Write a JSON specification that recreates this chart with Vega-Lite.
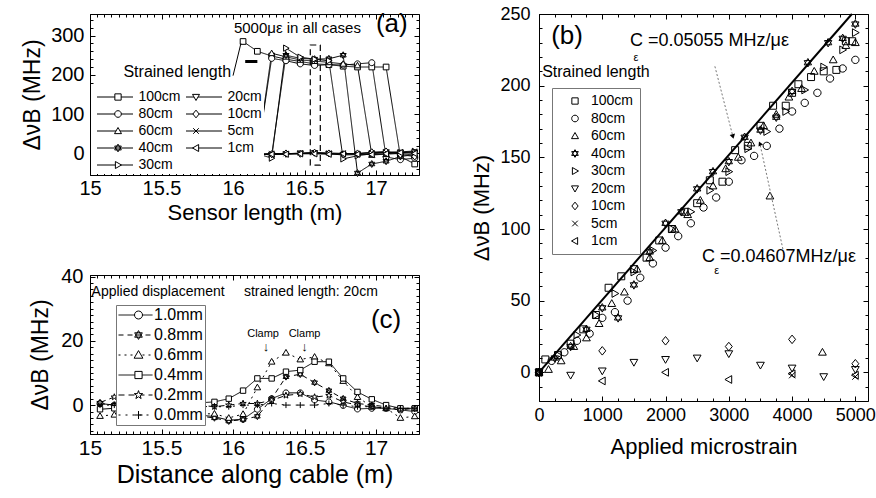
{
 "$schema": "https://vega.github.io/schema/vega-lite/v6.json",
 "autosize": {"type": "none"},
 "padding": {"left": 90, "top": 14, "right": 786, "bottom": 484},
 "background": "white",
 "bounds": "flush",
 "spacing": 449,
 "datasets": {
  "a": [
   {"s":"100cm","x":16.07,"v":285},{"s":"100cm","x":16.17,"v":260},{"s":"100cm","x":16.27,"v":248},{"s":"100cm","x":16.37,"v":240},{"s":"100cm","x":16.47,"v":234},{"s":"100cm","x":16.57,"v":228},{"s":"100cm","x":16.67,"v":226},{"s":"100cm","x":16.77,"v":222},{"s":"100cm","x":16.87,"v":220},{"s":"100cm","x":16.97,"v":220},{"s":"100cm","x":17.07,"v":220},{"s":"100cm","x":17.17,"v":-8},{"s":"100cm","x":17.27,"v":-27},
   {"s":"80cm","x":16.07,"v":0},{"s":"80cm","x":16.17,"v":-2},{"s":"80cm","x":16.27,"v":242},{"s":"80cm","x":16.37,"v":236},{"s":"80cm","x":16.47,"v":228},{"s":"80cm","x":16.57,"v":224},{"s":"80cm","x":16.67,"v":226},{"s":"80cm","x":16.77,"v":225},{"s":"80cm","x":16.87,"v":228},{"s":"80cm","x":16.97,"v":231},{"s":"80cm","x":17.07,"v":-9},{"s":"80cm","x":17.17,"v":-16},{"s":"80cm","x":17.27,"v":-12},
   {"s":"60cm","x":16.07,"v":-1},{"s":"60cm","x":16.17,"v":0},{"s":"60cm","x":16.27,"v":255},{"s":"60cm","x":16.37,"v":246},{"s":"60cm","x":16.47,"v":238},{"s":"60cm","x":16.57,"v":235},{"s":"60cm","x":16.67,"v":232},{"s":"60cm","x":16.77,"v":228},{"s":"60cm","x":16.87,"v":224},{"s":"60cm","x":16.97,"v":-4},{"s":"60cm","x":17.07,"v":-2},{"s":"60cm","x":17.17,"v":0},{"s":"60cm","x":17.27,"v":-5},
   {"s":"40cm","x":16.07,"v":0},{"s":"40cm","x":16.17,"v":-1},{"s":"40cm","x":16.27,"v":-4},{"s":"40cm","x":16.37,"v":250},{"s":"40cm","x":16.47,"v":242},{"s":"40cm","x":16.57,"v":240},{"s":"40cm","x":16.67,"v":241},{"s":"40cm","x":16.77,"v":250},{"s":"40cm","x":16.87,"v":-50},{"s":"40cm","x":16.97,"v":-27},{"s":"40cm","x":17.07,"v":-20},{"s":"40cm","x":17.17,"v":-8},{"s":"40cm","x":17.27,"v":-3},
   {"s":"30cm","x":16.07,"v":-2},{"s":"30cm","x":16.17,"v":-1},{"s":"30cm","x":16.27,"v":-12},{"s":"30cm","x":16.37,"v":268},{"s":"30cm","x":16.47,"v":245},{"s":"30cm","x":16.57,"v":240},{"s":"30cm","x":16.67,"v":236},{"s":"30cm","x":16.77,"v":-14},{"s":"30cm","x":16.87,"v":-6},{"s":"30cm","x":16.97,"v":-1},{"s":"30cm","x":17.07,"v":2},{"s":"30cm","x":17.17,"v":1},{"s":"30cm","x":17.27,"v":5},
   {"s":"20cm","x":16.07,"v":0},{"s":"20cm","x":16.17,"v":-2},{"s":"20cm","x":16.27,"v":-3},{"s":"20cm","x":16.37,"v":-2},{"s":"20cm","x":16.47,"v":0},{"s":"20cm","x":16.57,"v":1},{"s":"20cm","x":16.67,"v":-1},{"s":"20cm","x":16.77,"v":-4},{"s":"20cm","x":16.87,"v":-3},{"s":"20cm","x":16.97,"v":0},{"s":"20cm","x":17.07,"v":3},{"s":"20cm","x":17.17,"v":2},{"s":"20cm","x":17.27,"v":3},
   {"s":"10cm","x":16.07,"v":1},{"s":"10cm","x":16.17,"v":-3},{"s":"10cm","x":16.27,"v":-2},{"s":"10cm","x":16.37,"v":0},{"s":"10cm","x":16.47,"v":-1},{"s":"10cm","x":16.57,"v":2},{"s":"10cm","x":16.67,"v":0},{"s":"10cm","x":16.77,"v":-2},{"s":"10cm","x":16.87,"v":0},{"s":"10cm","x":16.97,"v":3},{"s":"10cm","x":17.07,"v":5},{"s":"10cm","x":17.17,"v":-3},{"s":"10cm","x":17.27,"v":-8},
   {"s":"5cm","x":16.07,"v":0},{"s":"5cm","x":16.17,"v":-2},{"s":"5cm","x":16.27,"v":0},{"s":"5cm","x":16.37,"v":-1},{"s":"5cm","x":16.47,"v":1},{"s":"5cm","x":16.57,"v":2},{"s":"5cm","x":16.67,"v":1},{"s":"5cm","x":16.77,"v":0},{"s":"5cm","x":16.87,"v":-1},{"s":"5cm","x":16.97,"v":2},{"s":"5cm","x":17.07,"v":3},{"s":"5cm","x":17.17,"v":4},{"s":"5cm","x":17.27,"v":6},
   {"s":"1cm","x":16.07,"v":0},{"s":"1cm","x":16.17,"v":-3},{"s":"1cm","x":16.27,"v":-2},{"s":"1cm","x":16.37,"v":-2},{"s":"1cm","x":16.47,"v":-1},{"s":"1cm","x":16.57,"v":-1},{"s":"1cm","x":16.67,"v":-2},{"s":"1cm","x":16.77,"v":-1},{"s":"1cm","x":16.87,"v":-2},{"s":"1cm","x":16.97,"v":-3},{"s":"1cm","x":17.07,"v":-1},{"s":"1cm","x":17.17,"v":2},{"s":"1cm","x":17.27,"v":0}
  ],
  "c": [
   {"s":"1.0mm","x":15.07,"v":0.5},{"s":"1.0mm","x":15.17,"v":0},{"s":"1.0mm","x":15.87,"v":-3.6},{"s":"1.0mm","x":15.97,"v":-4.7},{"s":"1.0mm","x":16.07,"v":-4.4},{"s":"1.0mm","x":16.17,"v":-1.3},{"s":"1.0mm","x":16.27,"v":2},{"s":"1.0mm","x":16.37,"v":3.8},{"s":"1.0mm","x":16.47,"v":3.8},{"s":"1.0mm","x":16.57,"v":1.6},{"s":"1.0mm","x":16.67,"v":1},{"s":"1.0mm","x":16.77,"v":-0.1},{"s":"1.0mm","x":16.87,"v":-1.2},{"s":"1.0mm","x":16.97,"v":-1},{"s":"1.0mm","x":17.07,"v":-1},{"s":"1.0mm","x":17.17,"v":-1.5},{"s":"1.0mm","x":17.27,"v":-2},
   {"s":"0.8mm","x":15.07,"v":0.5},{"s":"0.8mm","x":15.17,"v":0},{"s":"0.8mm","x":15.87,"v":-4},{"s":"0.8mm","x":15.97,"v":-5},{"s":"0.8mm","x":16.07,"v":-4.5},{"s":"0.8mm","x":16.17,"v":-3.5},{"s":"0.8mm","x":16.27,"v":2},{"s":"0.8mm","x":16.37,"v":8.8},{"s":"0.8mm","x":16.47,"v":9.6},{"s":"0.8mm","x":16.57,"v":7},{"s":"0.8mm","x":16.67,"v":4.5},{"s":"0.8mm","x":16.77,"v":2},{"s":"0.8mm","x":16.87,"v":0.5},{"s":"0.8mm","x":16.97,"v":0},{"s":"0.8mm","x":17.07,"v":-0.5},{"s":"0.8mm","x":17.17,"v":-1},{"s":"0.8mm","x":17.27,"v":-1},
   {"s":"0.6mm","x":15.07,"v":-3.4},{"s":"0.6mm","x":15.17,"v":-3},{"s":"0.6mm","x":15.87,"v":-2.7},{"s":"0.6mm","x":15.97,"v":-4},{"s":"0.6mm","x":16.07,"v":-2.8},{"s":"0.6mm","x":16.17,"v":5.5},{"s":"0.6mm","x":16.27,"v":13.5},{"s":"0.6mm","x":16.37,"v":16.3},{"s":"0.6mm","x":16.47,"v":14.2},{"s":"0.6mm","x":16.57,"v":15},{"s":"0.6mm","x":16.67,"v":13},{"s":"0.6mm","x":16.77,"v":7.5},{"s":"0.6mm","x":16.87,"v":2.5},{"s":"0.6mm","x":16.97,"v":-0.5},{"s":"0.6mm","x":17.07,"v":-1},{"s":"0.6mm","x":17.17,"v":-4},{"s":"0.6mm","x":17.27,"v":-3.5},
   {"s":"0.4mm","x":15.07,"v":-1.3},{"s":"0.4mm","x":15.17,"v":-1},{"s":"0.4mm","x":15.87,"v":1},{"s":"0.4mm","x":15.97,"v":2},{"s":"0.4mm","x":16.07,"v":4.5},{"s":"0.4mm","x":16.17,"v":8.3},{"s":"0.4mm","x":16.27,"v":8.3},{"s":"0.4mm","x":16.37,"v":10.4},{"s":"0.4mm","x":16.47,"v":10.9},{"s":"0.4mm","x":16.57,"v":13.5},{"s":"0.4mm","x":16.67,"v":13.5},{"s":"0.4mm","x":16.77,"v":8.3},{"s":"0.4mm","x":16.87,"v":4.1},{"s":"0.4mm","x":16.97,"v":1.8},{"s":"0.4mm","x":17.07,"v":0},{"s":"0.4mm","x":17.17,"v":-1},{"s":"0.4mm","x":17.27,"v":-1},
   {"s":"0.2mm","x":15.07,"v":0.8},{"s":"0.2mm","x":15.17,"v":2.5},{"s":"0.2mm","x":15.87,"v":-0.5},{"s":"0.2mm","x":15.97,"v":0},{"s":"0.2mm","x":16.07,"v":0.5},{"s":"0.2mm","x":16.17,"v":0.5},{"s":"0.2mm","x":16.27,"v":1.5},{"s":"0.2mm","x":16.37,"v":3},{"s":"0.2mm","x":16.47,"v":3.5},{"s":"0.2mm","x":16.57,"v":2.5},{"s":"0.2mm","x":16.67,"v":3},{"s":"0.2mm","x":16.77,"v":1},{"s":"0.2mm","x":16.87,"v":0},{"s":"0.2mm","x":16.97,"v":-0.5},{"s":"0.2mm","x":17.07,"v":-1},{"s":"0.2mm","x":17.17,"v":-1.5},{"s":"0.2mm","x":17.27,"v":-1},
   {"s":"0.0mm","x":15.07,"v":0},{"s":"0.0mm","x":15.17,"v":0},{"s":"0.0mm","x":15.87,"v":-0.5},{"s":"0.0mm","x":15.97,"v":-0.5},{"s":"0.0mm","x":16.07,"v":0},{"s":"0.0mm","x":16.17,"v":0},{"s":"0.0mm","x":16.27,"v":0.5},{"s":"0.0mm","x":16.37,"v":0},{"s":"0.0mm","x":16.47,"v":0},{"s":"0.0mm","x":16.57,"v":0},{"s":"0.0mm","x":16.67,"v":0.5},{"s":"0.0mm","x":16.77,"v":0},{"s":"0.0mm","x":16.87,"v":-0.5},{"s":"0.0mm","x":16.97,"v":-0.5},{"s":"0.0mm","x":17.07,"v":-1},{"s":"0.0mm","x":17.17,"v":-1},{"s":"0.0mm","x":17.27,"v":-1}
  ],
  "b": [
   {"s":"100cm","x":0,"v":0},{"s":"100cm","x":100,"v":9},{"s":"100cm","x":300,"v":12},{"s":"100cm","x":500,"v":20},{"s":"100cm","x":700,"v":30},{"s":"100cm","x":900,"v":40},{"s":"100cm","x":1100,"v":59},{"s":"100cm","x":1300,"v":67},{"s":"100cm","x":1500,"v":72},{"s":"100cm","x":1700,"v":80},{"s":"100cm","x":1900,"v":92},{"s":"100cm","x":2100,"v":100},{"s":"100cm","x":2300,"v":112},{"s":"100cm","x":2500,"v":118},{"s":"100cm","x":2700,"v":134},{"s":"100cm","x":2900,"v":133},{"s":"100cm","x":3100,"v":155},{"s":"100cm","x":3300,"v":158},{"s":"100cm","x":3500,"v":172},{"s":"100cm","x":3700,"v":186},{"s":"100cm","x":3900,"v":186},{"s":"100cm","x":4000,"v":195},{"s":"100cm","x":4100,"v":201},{"s":"100cm","x":4300,"v":206},{"s":"100cm","x":4500,"v":210},{"s":"100cm","x":4700,"v":211},{"s":"100cm","x":4850,"v":231},{"s":"100cm","x":4950,"v":231},
   {"s":"80cm","x":0,"v":0},{"s":"80cm","x":200,"v":8},{"s":"80cm","x":400,"v":14},{"s":"80cm","x":600,"v":22},{"s":"80cm","x":800,"v":27},{"s":"80cm","x":1000,"v":38},{"s":"80cm","x":1200,"v":42},{"s":"80cm","x":1400,"v":50},{"s":"80cm","x":1600,"v":66},{"s":"80cm","x":1800,"v":76},{"s":"80cm","x":2000,"v":87},{"s":"80cm","x":2200,"v":95},{"s":"80cm","x":2400,"v":104},{"s":"80cm","x":2600,"v":115},{"s":"80cm","x":2800,"v":122},{"s":"80cm","x":3000,"v":133},{"s":"80cm","x":3200,"v":148},{"s":"80cm","x":3400,"v":151},{"s":"80cm","x":3600,"v":158},{"s":"80cm","x":3800,"v":170},{"s":"80cm","x":4000,"v":182},{"s":"80cm","x":4200,"v":188},{"s":"80cm","x":4400,"v":195},{"s":"80cm","x":4600,"v":205},{"s":"80cm","x":4800,"v":212},{"s":"80cm","x":5000,"v":218},
   {"s":"60cm","x":0,"v":0},{"s":"60cm","x":150,"v":2},{"s":"60cm","x":350,"v":8},{"s":"60cm","x":550,"v":18},{"s":"60cm","x":750,"v":24},{"s":"60cm","x":950,"v":34},{"s":"60cm","x":1150,"v":48},{"s":"60cm","x":1350,"v":56},{"s":"60cm","x":1550,"v":72},{"s":"60cm","x":1750,"v":80},{"s":"60cm","x":1950,"v":92},{"s":"60cm","x":2150,"v":100},{"s":"60cm","x":2350,"v":110},{"s":"60cm","x":2550,"v":120},{"s":"60cm","x":2750,"v":130},{"s":"60cm","x":2950,"v":142},{"s":"60cm","x":3150,"v":150},{"s":"60cm","x":3350,"v":160},{"s":"60cm","x":3550,"v":172},{"s":"60cm","x":3650,"v":123},{"s":"60cm","x":3750,"v":180},{"s":"60cm","x":3950,"v":192},{"s":"60cm","x":4150,"v":198},{"s":"60cm","x":4350,"v":210},{"s":"60cm","x":4480,"v":14},{"s":"60cm","x":4650,"v":218},{"s":"60cm","x":4850,"v":228},{"s":"60cm","x":5000,"v":230},
   {"s":"40cm","x":0,"v":0},{"s":"40cm","x":250,"v":10},{"s":"40cm","x":500,"v":18},{"s":"40cm","x":750,"v":30},{"s":"40cm","x":1000,"v":45},{"s":"40cm","x":1250,"v":38},{"s":"40cm","x":1500,"v":61},{"s":"40cm","x":1750,"v":84},{"s":"40cm","x":2000,"v":104},{"s":"40cm","x":2250,"v":112},{"s":"40cm","x":2500,"v":128},{"s":"40cm","x":2750,"v":140},{"s":"40cm","x":3000,"v":147},{"s":"40cm","x":3250,"v":164},{"s":"40cm","x":3500,"v":169},{"s":"40cm","x":3750,"v":178},{"s":"40cm","x":4000,"v":196},{"s":"40cm","x":4250,"v":216},{"s":"40cm","x":4570,"v":230},{"s":"40cm","x":4800,"v":233},{"s":"40cm","x":5000,"v":243},
   {"s":"30cm","x":0,"v":0},{"s":"30cm","x":300,"v":12},{"s":"30cm","x":600,"v":26},{"s":"30cm","x":900,"v":40},{"s":"30cm","x":1200,"v":55},{"s":"30cm","x":1500,"v":70},{"s":"30cm","x":1800,"v":85},{"s":"30cm","x":2100,"v":100},{"s":"30cm","x":2400,"v":112},{"s":"30cm","x":2700,"v":127},{"s":"30cm","x":3000,"v":140},{"s":"30cm","x":3300,"v":156},{"s":"30cm","x":3600,"v":168},{"s":"30cm","x":3900,"v":182},{"s":"30cm","x":4200,"v":197},{"s":"30cm","x":4500,"v":213},{"s":"30cm","x":4800,"v":225},{"s":"30cm","x":5000,"v":237},
   {"s":"20cm","x":0,"v":0},{"s":"20cm","x":500,"v":-2},{"s":"20cm","x":1000,"v":1},{"s":"20cm","x":1500,"v":7},{"s":"20cm","x":2000,"v":9},{"s":"20cm","x":2500,"v":10},{"s":"20cm","x":3000,"v":13},{"s":"20cm","x":3500,"v":5},{"s":"20cm","x":4000,"v":3},{"s":"20cm","x":4500,"v":-3},{"s":"20cm","x":5000,"v":2},
   {"s":"10cm","x":0,"v":0},{"s":"10cm","x":1000,"v":15},{"s":"10cm","x":2000,"v":22},{"s":"10cm","x":3000,"v":18},{"s":"10cm","x":4000,"v":23},{"s":"10cm","x":5000,"v":6},
   {"s":"5cm","x":0,"v":0},{"s":"5cm","x":4000,"v":-2},{"s":"5cm","x":5000,"v":-3},
   {"s":"1cm","x":0,"v":0},{"s":"1cm","x":1000,"v":-6},{"s":"1cm","x":2000,"v":0},{"s":"1cm","x":3000,"v":-5},{"s":"1cm","x":4000,"v":-1},{"s":"1cm","x":5000,"v":-2}
  ]
 },
 "resolve": {"scale": {"shape": "independent", "strokeDash": "independent", "x": "independent", "y": "independent"}, "legend": {"shape": "independent", "strokeDash": "independent"}},
 "hconcat": [
  {
   "bounds": "flush",
   "spacing": 100,
   "resolve": {"scale": {"shape": "independent", "strokeDash": "independent", "x": "independent", "y": "independent"}, "legend": {"shape": "independent", "strokeDash": "independent"}},
   "vconcat": [
    {
     "width": 329, "height": 161,
     "resolve": {"axis": {"x": "independent", "y": "independent"}},
     "layer": [
      {"data": {"name": "a"}, "mark": {"type": "line", "color": "black", "strokeWidth": 1},
       "encoding": {
        "x": {"field": "x", "type": "quantitative", "scale": {"domain": [15, 17.3], "nice": false, "zero": false},
              "axis": {"orient": "bottom", "values": [15, 15.5, 16, 16.5, 17], "format": "~g", "title": "Sensor length (m)", "labelFontSize": 20, "titleFontSize": 22, "tickSize": -5, "labelPadding": 8, "titlePadding": 4}},
        "y": {"field": "v", "type": "quantitative", "scale": {"domain": [-55, 355], "nice": false, "zero": false},
              "axis": {"orient": "left", "values": [0, 100, 200, 300], "title": "ΔνB (MHz)", "labelFontSize": 20, "titleFontSize": 23, "tickSize": -5, "labelPadding": 11, "titlePadding": 6}},
        "strokeDash": {"field": "s", "type": "nominal",
          "scale": {"domain": ["100cm", "80cm", "60cm", "40cm", "30cm", "20cm", "10cm", "5cm", "1cm"], "range": [[1, 0], [1, 0], [1, 0], [1, 0], [1, 0], [1, 0], [1, 0], [1, 0], [1, 0]]},
          "legend": {"orient": "none", "legendX": 1, "legendY": 74, "columns": 2, "title": null, "fillColor": "white", "padding": 2, "rowPadding": 3, "columnPadding": 1, "labelFontSize": 14, "symbolType": "stroke", "symbolSize": 1296, "symbolOffset": 3.5, "labelOffset": 5, "symbolStrokeWidth": 1, "symbolStrokeColor": "black", "clipHeight": 14, "zindex": 1}}
       }},
      {"data": {"name": "a"}, "mark": {"type": "point", "filled": true, "fill": "white", "stroke": "black", "strokeWidth": 1, "size": 40, "opacity": 1},
       "encoding": {
        "x": {"field": "x", "type": "quantitative", "axis": null},
        "y": {"field": "v", "type": "quantitative", "axis": null},
        "shape": {"field": "s", "type": "nominal", "sort": ["100cm", "80cm", "60cm", "40cm", "30cm", "20cm", "10cm", "5cm", "1cm"],
          "scale": {"range": ["M-0.9,-0.9H0.9V0.9H-0.9Z", "M-0.95,0A0.95,0.95,0,1,0,0.95,0A0.95,0.95,0,1,0,-0.95,0Z", "M0,-1L1,0.75H-1Z", "M0,-1.1L0.95,0.55H-0.95ZM0,1.1L0.95,-0.55H-0.95Z", "M1,0L-0.75,-1V1Z", "M0,1L1,-0.75H-1Z", "M0,-1.1L0.9,0L0,1.1L-0.9,0Z", "M-0.8,-0.8L0.8,0.8M-0.8,0.8L0.8,-0.8", "M-1,0L0.75,-1V1Z"]},
          "legend": {"orient": "none", "legendX": 1, "legendY": 74, "columns": 2, "title": null, "padding": 2, "rowPadding": 3, "columnPadding": 1, "labelFontSize": 14, "labelOpacity": 0, "labelExpr": "'\u2003\u2003\u2003'", "symbolSize": 49, "symbolOffset": 18, "labelOffset": 45, "symbolStrokeWidth": 1, "clipHeight": 14, "zindex": 2}
        }
       }},
      {"data": {"name": "a"}, "mark": {"type": "point", "opacity": 0},
       "encoding": {
        "x": {"field": "x", "type": "quantitative", "axis": {"orient": "bottom", "tickCount": 46, "labels": false, "title": null, "tickSize": -3}},
        "y": {"field": "v", "type": "quantitative", "axis": {"orient": "left", "tickCount": 20, "labels": false, "title": null, "tickSize": -3}}
       }},
      {"data": {"name": "a"}, "mark": {"type": "point", "opacity": 0},
       "encoding": {
        "x": {"field": "x", "type": "quantitative", "axis": {"orient": "top", "values": [15, 15.5, 16, 16.5, 17], "labels": false, "title": null, "tickSize": -5}},
        "y": {"field": "v", "type": "quantitative", "axis": {"orient": "right", "values": [0, 100, 200, 300], "labels": false, "title": null, "tickSize": -5}}
       }},
      {"data": {"name": "a"}, "mark": {"type": "point", "opacity": 0},
       "encoding": {
        "x": {"field": "x", "type": "quantitative", "axis": {"orient": "top", "tickCount": 46, "labels": false, "title": null, "tickSize": -3}},
        "y": {"field": "v", "type": "quantitative", "axis": {"orient": "right", "tickCount": 20, "labels": false, "title": null, "tickSize": -3}}
       }},
      {"data": {"values": [{}]}, "mark": {"type": "rect", "fillOpacity": 0, "stroke": "black", "strokeWidth": 1.2, "strokeDash": [6, 4]},
       "encoding": {"x": {"datum": 16.54, "type": "quantitative", "axis": null}, "x2": {"datum": 16.61}, "y": {"datum": -30, "type": "quantitative", "axis": null}, "y2": {"datum": 276}}},
      {"data": {"values": [{}]}, "mark": {"type": "rule", "color": "black", "strokeWidth": 1},
       "encoding": {"x": {"datum": 16.0, "type": "quantitative", "axis": null}, "x2": {"datum": 16.055}, "y": {"datum": 198, "type": "quantitative", "axis": null}, "y2": {"datum": 280}}},
      {"data": {"values": [{}]}, "mark": {"type": "rule", "color": "black", "strokeWidth": 3},
       "encoding": {"x": {"datum": 16.085, "type": "quantitative", "axis": null}, "x2": {"datum": 16.17}, "y": {"datum": 234, "type": "quantitative", "axis": null}, "y2": {"datum": 234}}},
      {"data": {"values": [{}]}, "mark": {"type": "text", "text": "5000με in all cases", "fontSize": 15, "align": "center", "baseline": "middle"},
       "encoding": {"x": {"datum": 16.45, "type": "quantitative", "axis": null}, "y": {"datum": 320, "type": "quantitative", "axis": null}}},
      {"data": {"values": [{}]}, "mark": {"type": "text", "text": "(a)", "fontSize": 26, "align": "center", "baseline": "middle"},
       "encoding": {"x": {"datum": 17.11, "type": "quantitative", "axis": null}, "y": {"datum": 330, "type": "quantitative", "axis": null}}},
      {"data": {"values": [{}]}, "mark": {"type": "text", "text": "Strained length", "fontSize": 16, "align": "center", "baseline": "middle"},
       "encoding": {"x": {"datum": 15.61, "type": "quantitative", "axis": null}, "y": {"datum": 207, "type": "quantitative", "axis": null}}}
     ]
    },
    {
     "width": 329, "height": 159,
     "resolve": {"axis": {"x": "independent", "y": "independent"}},
     "layer": [
      {"data": {"name": "c"}, "mark": {"type": "line", "color": "black", "strokeWidth": 1},
       "encoding": {
        "x": {"field": "x", "type": "quantitative", "scale": {"domain": [15, 17.3], "nice": false, "zero": false},
              "axis": {"orient": "bottom", "values": [15, 15.5, 16, 16.5, 17], "format": "~g", "title": "Distance along cable (m)", "labelFontSize": 21, "titleFontSize": 25, "tickSize": -5, "labelPadding": 8, "titlePadding": 4}},
        "y": {"field": "v", "type": "quantitative", "scale": {"domain": [-9, 40.5], "nice": false, "zero": false},
              "axis": {"orient": "left", "values": [0, 20, 40], "title": "ΔνB (MHz)", "labelFontSize": 20, "titleFontSize": 23, "tickSize": -5, "labelPadding": 12, "titlePadding": 8}},
        "strokeDash": {"field": "s", "type": "nominal",
          "scale": {"domain": ["1.0mm", "0.8mm", "0.6mm", "0.4mm", "0.2mm", "0.0mm"], "range": [[1, 0], [5, 4], [2, 4], [1, 0], [6, 4], [2, 5]]},
          "legend": {"orient": "none", "legendX": 26, "legendY": 30, "title": null, "fillColor": "white", "strokeColor": "#777777", "padding": 2, "rowPadding": 4, "labelFontSize": 16, "symbolType": "stroke", "symbolSize": 1156, "symbolOffset": 0, "labelOffset": 1, "symbolStrokeWidth": 1, "symbolStrokeColor": "black", "clipHeight": 16, "zindex": 1}}
       }},
      {"data": {"name": "c"}, "mark": {"type": "point", "filled": true, "fill": "white", "stroke": "black", "strokeWidth": 1, "size": 36, "opacity": 1},
       "encoding": {
        "x": {"field": "x", "type": "quantitative", "axis": null},
        "y": {"field": "v", "type": "quantitative", "axis": null},
        "shape": {"field": "s", "type": "nominal", "sort": ["1.0mm", "0.8mm", "0.6mm", "0.4mm", "0.2mm", "0.0mm"],
          "scale": {"range": ["M-1,0A1,1,0,1,0,1,0A1,1,0,1,0,-1,0Z", "M0,-1.1L0.95,0.55H-0.95ZM0,1.1L0.95,-0.55H-0.95Z", "M0,-1.1L1.1,0.8H-1.1Z", "M-0.9,-0.9H0.9V0.9H-0.9Z", "M0,-1.1L0.26,-0.36L1.05,-0.34L0.42,0.14L0.65,0.89L0,0.44L-0.65,0.89L-0.42,0.14L-1.05,-0.34L-0.26,-0.36Z", "M-1,0H1M0,-1V1"]},
          "legend": {"orient": "none", "legendX": 26, "legendY": 30, "title": null, "padding": 2, "rowPadding": 4, "labelFontSize": 16, "labelOpacity": 0, "labelExpr": "'\u2003\u2003\u2003'", "symbolSize": 64, "symbolOffset": 12.5, "labelOffset": 27, "symbolStrokeWidth": 1, "clipHeight": 16, "zindex": 2}
        }
       }},
      {"data": {"name": "c"}, "mark": {"type": "point", "opacity": 0},
       "encoding": {
        "x": {"field": "x", "type": "quantitative", "axis": {"orient": "bottom", "tickCount": 46, "labels": false, "title": null, "tickSize": -3}},
        "y": {"field": "v", "type": "quantitative", "axis": {"orient": "left", "tickCount": 25, "labels": false, "title": null, "tickSize": -3}}
       }},
      {"data": {"name": "c"}, "mark": {"type": "point", "opacity": 0},
       "encoding": {
        "x": {"field": "x", "type": "quantitative", "axis": {"orient": "top", "values": [15, 15.5, 16, 16.5, 17], "labels": false, "title": null, "tickSize": -5}},
        "y": {"field": "v", "type": "quantitative", "axis": {"orient": "right", "values": [0, 20, 40], "labels": false, "title": null, "tickSize": -5}}
       }},
      {"data": {"name": "c"}, "mark": {"type": "point", "opacity": 0},
       "encoding": {
        "x": {"field": "x", "type": "quantitative", "axis": {"orient": "top", "tickCount": 46, "labels": false, "title": null, "tickSize": -3}},
        "y": {"field": "v", "type": "quantitative", "axis": {"orient": "right", "tickCount": 25, "labels": false, "title": null, "tickSize": -3}}
       }},
      {"data": {"values": [{}]}, "mark": {"type": "text", "text": "Applied displacement", "fontSize": 14, "align": "center", "baseline": "middle"},
       "encoding": {"x": {"datum": 15.476, "type": "quantitative", "axis": null}, "y": {"datum": 35.3, "type": "quantitative", "axis": null}}},
      {"data": {"values": [{}]}, "mark": {"type": "text", "text": "strained length: 20cm", "fontSize": 14, "align": "center", "baseline": "middle"},
       "encoding": {"x": {"datum": 16.544, "type": "quantitative", "axis": null}, "y": {"datum": 35.3, "type": "quantitative", "axis": null}}},
      {"data": {"values": [{}]}, "mark": {"type": "text", "text": "(c)", "fontSize": 26, "align": "center", "baseline": "middle"},
       "encoding": {"x": {"datum": 17.07, "type": "quantitative", "axis": null}, "y": {"datum": 26.5, "type": "quantitative", "axis": null}}},
      {"data": {"values": [{}]}, "mark": {"type": "text", "text": "Clamp", "fontSize": 11, "align": "center", "baseline": "middle"},
       "encoding": {"x": {"datum": 16.21, "type": "quantitative", "axis": null}, "y": {"datum": 22.1, "type": "quantitative", "axis": null}}},
      {"data": {"values": [{}]}, "mark": {"type": "text", "text": "Clamp", "fontSize": 11, "align": "center", "baseline": "middle"},
       "encoding": {"x": {"datum": 16.5, "type": "quantitative", "axis": null}, "y": {"datum": 22.1, "type": "quantitative", "axis": null}}},
      {"data": {"values": [{}]}, "mark": {"type": "text", "text": "↓", "fontSize": 13, "align": "center", "baseline": "middle"},
       "encoding": {"x": {"datum": 16.23, "type": "quantitative", "axis": null}, "y": {"datum": 18.2, "type": "quantitative", "axis": null}}},
      {"data": {"values": [{}]}, "mark": {"type": "text", "text": "↓", "fontSize": 13, "align": "center", "baseline": "middle"},
       "encoding": {"x": {"datum": 16.5, "type": "quantitative", "axis": null}, "y": {"datum": 18.2, "type": "quantitative", "axis": null}}}
     ]
    }
   ]
  },
  {
   "width": 329, "height": 387,
   "resolve": {"axis": {"x": "independent", "y": "independent"}},
   "layer": [
    {"data": {"name": "b"}, "mark": {"type": "point", "filled": false, "stroke": "black", "strokeWidth": 1, "size": 60, "opacity": 1},
     "encoding": {
      "x": {"field": "x", "type": "quantitative", "scale": {"domain": [0, 5200], "nice": false, "zero": false},
            "axis": {"orient": "bottom", "values": [0, 1000, 2000, 3000, 4000, 5000], "format": "d", "title": "Applied microstrain", "labelFontSize": 18, "titleFontSize": 22, "tickSize": -5, "labelPadding": 10, "titlePadding": 12}},
      "y": {"field": "v", "type": "quantitative", "scale": {"domain": [-20, 250], "nice": false, "zero": false},
            "axis": {"orient": "left", "values": [0, 50, 100, 150, 200, 250], "format": "d", "title": "ΔνB (MHz)", "labelFontSize": 18, "titleFontSize": 22, "tickSize": -5, "labelPadding": 14, "titlePadding": 6}},
      "shape": {"field": "s", "type": "nominal",
        "scale": {"domain": ["100cm", "80cm", "60cm", "40cm", "30cm", "20cm", "10cm", "5cm", "1cm"],
                  "range": ["M-0.9,-0.9H0.9V0.9H-0.9Z", "M-0.95,0A0.95,0.95,0,1,0,0.95,0A0.95,0.95,0,1,0,-0.95,0Z", "M0,-1L1,0.75H-1Z", "M0,-1.1L0.95,0.55H-0.95ZM0,1.1L0.95,-0.55H-0.95Z", "M1,0L-0.75,-1V1Z", "M0,1L1,-0.75H-1Z", "M0,-1.1L0.9,0L0,1.1L-0.9,0Z", "M-0.8,-0.8L0.8,0.8M-0.8,0.8L0.8,-0.8", "M-1,0L0.75,-1V1Z"]},
        "legend": {"orient": "none", "legendX": 13, "legendY": 74, "title": null, "fillColor": "white", "strokeColor": "#777777", "padding": 6, "rowPadding": 3.5, "labelFontSize": 14, "symbolSize": 49, "symbolOffset": 10, "labelOffset": 9, "symbolStrokeWidth": 1, "symbolFillColor": "transparent", "symbolStrokeColor": "black"}
      }
     }},
    {"data": {"name": "b"}, "mark": {"type": "point", "opacity": 0},
     "encoding": {
      "x": {"field": "x", "type": "quantitative", "axis": {"orient": "bottom", "values": [250, 500, 750, 1250, 1500, 1750, 2250, 2500, 2750, 3250, 3500, 3750, 4250, 4500, 4750, 5000], "labels": false, "title": null, "tickSize": -3}},
      "y": {"field": "v", "type": "quantitative", "axis": {"orient": "left", "tickCount": 27, "labels": false, "title": null, "tickSize": -3}}
     }},
    {"data": {"name": "b"}, "mark": {"type": "point", "opacity": 0},
     "encoding": {
      "x": {"field": "x", "type": "quantitative", "axis": {"orient": "top", "values": [0, 1000, 2000, 3000, 4000, 5000], "labels": false, "title": null, "tickSize": -5}},
      "y": {"field": "v", "type": "quantitative", "axis": {"orient": "right", "values": [0, 50, 100, 150, 200, 250], "labels": false, "title": null, "tickSize": -5}}
     }},
    {"data": {"name": "b"}, "mark": {"type": "point", "opacity": 0},
     "encoding": {
      "x": {"field": "x", "type": "quantitative", "axis": {"orient": "top", "values": [250, 500, 750, 1250, 1500, 1750, 2250, 2500, 2750, 3250, 3500, 3750, 4250, 4500, 4750, 5000], "labels": false, "title": null, "tickSize": -3}},
      "y": {"field": "v", "type": "quantitative", "axis": {"orient": "right", "tickCount": 27, "labels": false, "title": null, "tickSize": -3}}
     }},
    {"data": {"values": [{}]}, "mark": {"type": "rule", "color": "black", "strokeWidth": 2},
     "encoding": {"x": {"datum": 0, "type": "quantitative", "axis": null}, "x2": {"datum": 4946}, "y": {"datum": 0, "type": "quantitative", "axis": null}, "y2": {"datum": 250}}},
    {"data": {"values": [{}]}, "mark": {"type": "rule", "color": "#777777", "strokeWidth": 1, "strokeDash": [2, 2]},
     "encoding": {"x": {"datum": 2780, "type": "quantitative", "axis": null}, "x2": {"datum": 3065}, "y": {"datum": 213.5, "type": "quantitative", "axis": null}, "y2": {"datum": 164.5}}},
    {"data": {"values": [{}]}, "mark": {"type": "rule", "color": "#777777", "strokeWidth": 1, "strokeDash": [2, 2]},
     "encoding": {"x": {"datum": 3855, "type": "quantitative", "axis": null}, "x2": {"datum": 3491}, "y": {"datum": 86, "type": "quantitative", "axis": null}, "y2": {"datum": 159.6}}},
    {"data": {"values": [{}]}, "mark": {"type": "point", "shape": "triangle-down", "filled": true, "color": "black", "size": 30, "angle": 346, "opacity": 1},
     "encoding": {"x": {"datum": 3065, "type": "quantitative", "axis": null}, "y": {"datum": 164.5, "type": "quantitative", "axis": null}}},
    {"data": {"values": [{}]}, "mark": {"type": "point", "shape": "triangle-up", "filled": true, "color": "black", "size": 25, "angle": 335, "opacity": 1},
     "encoding": {"x": {"datum": 3491, "type": "quantitative", "axis": null}, "y": {"datum": 159.6, "type": "quantitative", "axis": null}}},
    {"data": {"values": [{}]}, "mark": {"type": "text", "text": "(b)", "fontSize": 26, "align": "center", "baseline": "middle"},
     "encoding": {"x": {"datum": 443, "type": "quantitative", "axis": null}, "y": {"datum": 235, "type": "quantitative", "axis": null}}},
    {"data": {"values": [{}]}, "mark": {"type": "text", "text": "Strained length", "fontSize": 16, "align": "center", "baseline": "middle"},
     "encoding": {"x": {"datum": 900, "type": "quantitative", "axis": null}, "y": {"datum": 209.5, "type": "quantitative", "axis": null}}},
    {"data": {"values": [{}]}, "mark": {"type": "text", "text": "C  =0.05055 MHz/με", "fontSize": 18, "align": "left", "baseline": "middle"},
     "encoding": {"x": {"datum": 1438, "type": "quantitative", "axis": null}, "y": {"datum": 231, "type": "quantitative", "axis": null}}},
    {"data": {"values": [{}]}, "mark": {"type": "text", "text": "ε", "fontSize": 11, "align": "center", "baseline": "middle"},
     "encoding": {"x": {"datum": 1533, "type": "quantitative", "axis": null}, "y": {"datum": 219, "type": "quantitative", "axis": null}}},
    {"data": {"values": [{}]}, "mark": {"type": "text", "text": "C  =0.04607MHz/με", "fontSize": 18, "align": "left", "baseline": "middle", "clip": true},
     "encoding": {"x": {"datum": 2576, "type": "quantitative", "axis": null}, "y": {"datum": 80.5, "type": "quantitative", "axis": null}}},
    {"data": {"values": [{}]}, "mark": {"type": "text", "text": "ε", "fontSize": 11, "align": "center", "baseline": "middle"},
     "encoding": {"x": {"datum": 2808, "type": "quantitative", "axis": null}, "y": {"datum": 70.5, "type": "quantitative", "axis": null}}}
   ]
  }
 ],
 "config": {
  "font": "Liberation Sans",
  "view": {"stroke": "black", "strokeWidth": 1, "fill": "white"},
  "axis": {"grid": false, "domain": false, "ticks": true, "tickColor": "black", "tickWidth": 1, "labelColor": "black", "titleColor": "black", "titleFontWeight": "normal", "labelFont": "Liberation Sans", "titleFont": "Liberation Sans", "labelFlush": false, "labelOverlap": false},
  "legend": {"labelFont": "Liberation Sans", "labelColor": "black"},
  "text": {"font": "Liberation Sans", "color": "black"}
 }
}
